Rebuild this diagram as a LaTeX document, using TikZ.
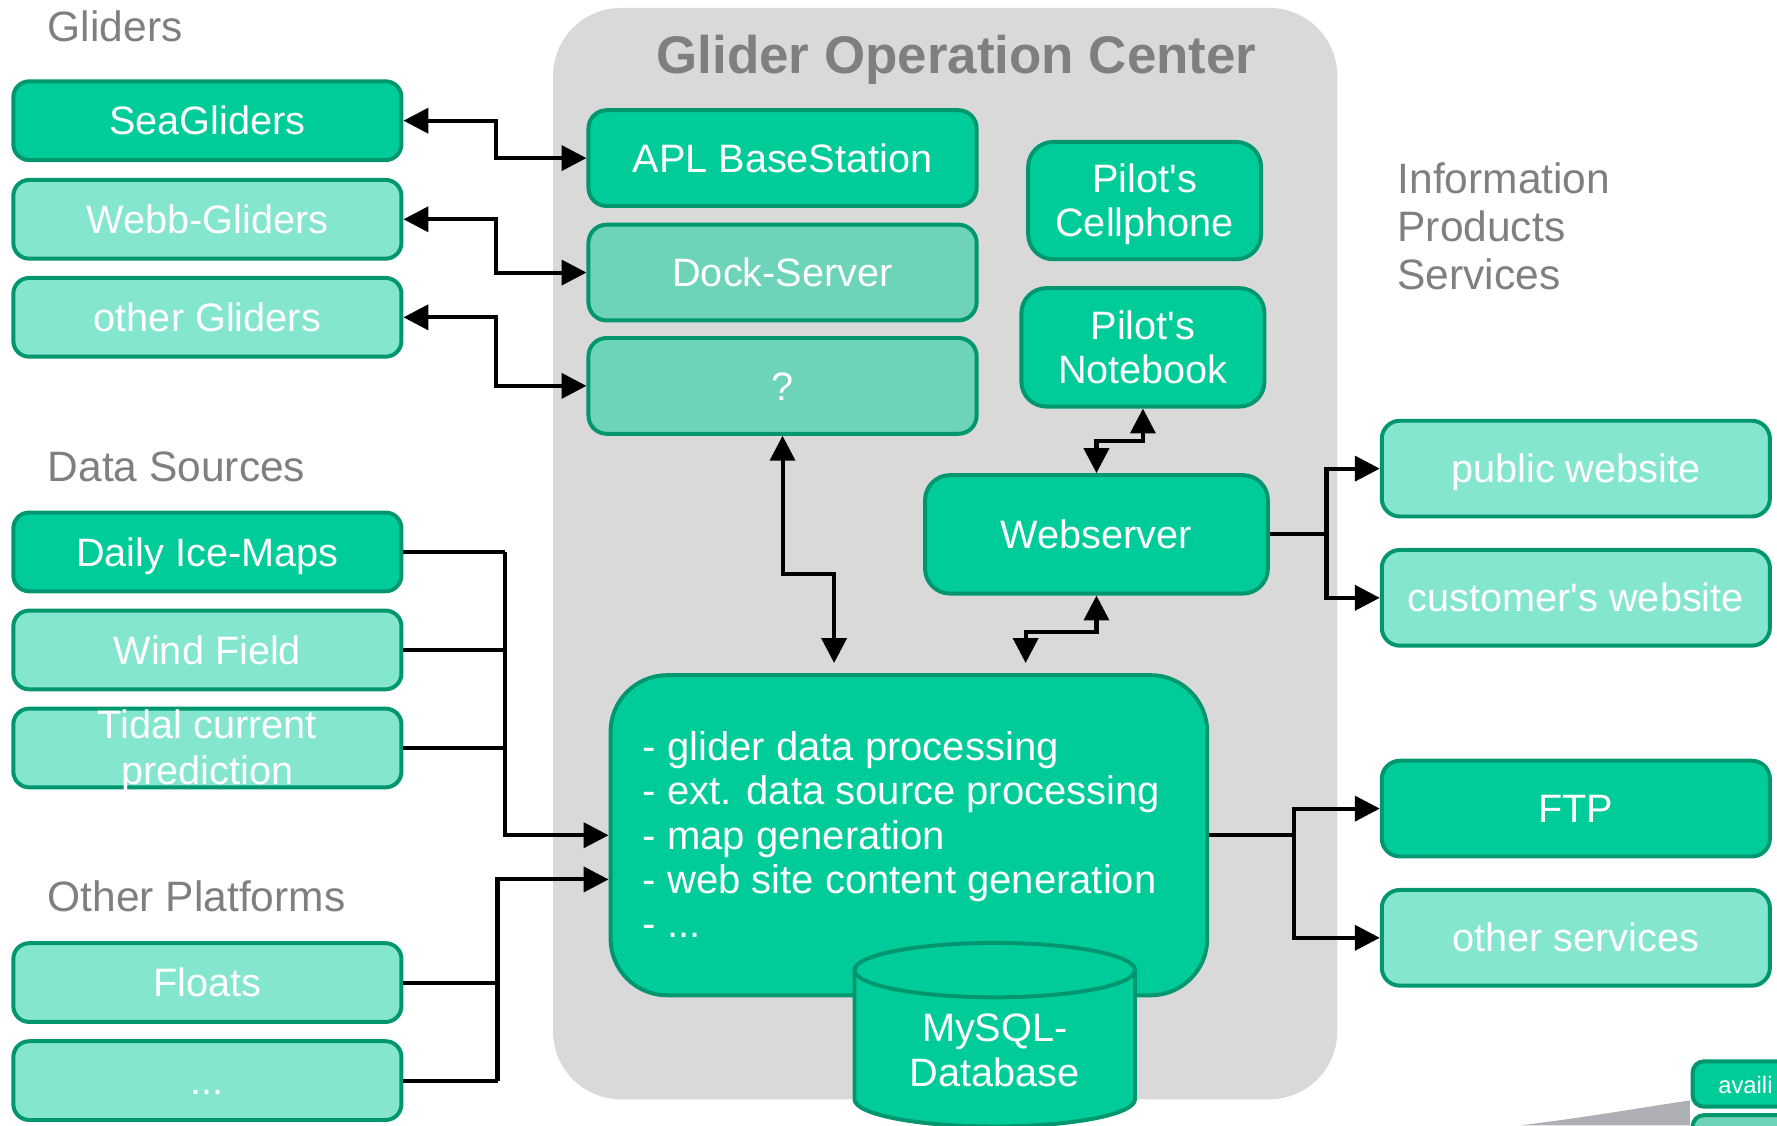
\documentclass[tikz,border=0pt]{standalone}
\usepackage{fontspec}
\setmainfont{Liberation Sans}
\usetikzlibrary{arrows.meta,calc}
\definecolor{gdark}{HTML}{00CC99}
\definecolor{glight}{HTML}{84E6CE}
\definecolor{gmid}{HTML}{6DD3B9}
\definecolor{gline}{HTML}{00966E}
\definecolor{panel}{HTML}{D9D9D9}
\definecolor{hdr}{HTML}{7F7F7F}
\definecolor{wedge}{HTML}{AEB0B5}
\newcommand{\apos}{\textquotesingle}
\begin{document}
\begin{tikzpicture}[x=1pt,y=-1pt,
  >={Triangle[length=22pt,width=22pt]},
  box/.style={draw=gline, line width=3.5pt, rounded corners=14pt, text=white, inner sep=0pt, align=center, font=\fontsize{35}{40}\selectfont},
  dk/.style={box, fill=gdark},
  lt/.style={box, fill=glight},
  md/.style={box, fill=gmid},
  one/.style={text height=25pt, text depth=0pt},
  lbox/.style={minimum width=342.5pt, minimum height=69.5pt},
  mbox/.style={minimum width=342.5pt, minimum height=84.5pt, rounded corners=16pt},
  hdrtext/.style={text=hdr, inner sep=0pt, font=\fontsize{37.5}{42.5}\selectfont},
  conn/.style={draw=black, line width=3.6pt},
]
\useasboundingbox (0,0) rectangle (1568,993);
\clip (0,0) rectangle (1568,993);

% panel
\node[fill=panel, rounded corners=60pt, minimum width=692pt, minimum height=963pt, inner sep=0pt] (panel) at (834,488.5) {};
\node[text=hdr, font=\fontsize{46.7}{50}\selectfont\bfseries, text height=33pt, text depth=0pt, inner sep=0pt] (title) at (844,48) {Glider Operation Center};

% headers
\node[hdrtext, anchor=west, text height=27pt, text depth=0pt] (hgl) at (42,23) {Gliders};
\node[hdrtext, anchor=west, text height=27pt, text depth=0pt] (hds) at (42,411) {Data Sources};
\node[hdrtext, anchor=west, text height=27pt, text depth=0pt] (hop) at (42,791) {Other Platforms};
\node[hdrtext, anchor=north west, align=left] (info) at (1233,143) {Information\\Products\\Services};

% left boxes
\node[dk,one,lbox] (sea) at (183,106.5) {SeaGliders};
\node[lt,one,lbox] (webb) at (183,193.5) {Webb-Gliders};
\node[lt,one,lbox] (oth) at (183,280) {other Gliders};
\node[dk,one,lbox] (daily) at (183,487) {Daily Ice-Maps};
\node[lt,one,lbox] (wind) at (183,573.5) {Wind Field};
\node[lt,lbox] (tidal) at (183,660) {};
\node[text=white, align=center, inner sep=0pt, font=\fontsize{35}{40}\selectfont] (tidaltext) at (183,663) {Tidal current\\prediction};
\node[lt,one,lbox] (floats) at (183,867) {Floats};
\node[lt,one,lbox] (dots) at (183,953.5) {...};

% middle boxes
\node[dk,one,mbox] (apl) at (690.5,139.5) {APL BaseStation};
\node[md,one,mbox] (dock) at (690.5,240.5) {Dock-Server};
\node[md,one,mbox] (q) at (690.5,340.5) {?};
\node[dk,rounded corners=22pt,minimum width=205.5pt,minimum height=103.5pt] (cell) at (1010,177) {};
\node[text=white, align=center, inner sep=0pt, font=\fontsize{35}{39}\selectfont] (celltext) at (1010,180) {Pilot\apos s\\Cellphone};
\node[dk,rounded corners=22pt,minimum width=214.5pt,minimum height=104.5pt, font=\fontsize{35}{39}\selectfont] (note) at (1008.5,306.5) {Pilot\apos s\\Notebook};
\node[dk,one,rounded corners=22pt,minimum width=302.5pt,minimum height=104.5pt] (web) at (967.5,471.5) {Webserver};
\node[dk,rounded corners=50pt,minimum width=526.5pt,minimum height=282.5pt] (proc) at (802,737) {};
\node[text=white, align=left, anchor=north west, inner sep=0pt, font=\fontsize{35.3}{39.2}\selectfont] (proctext) at (567,645) {- glider data processing\\- ext. data source processing\\- map generation\\- web site content generation\\- ...};

% database cylinder
\path[fill=gdark, draw=gline, line width=3.5pt] (754,856) -- (754,970) .. controls (754,983.3) and (809.4,994) .. (877.75,994) .. controls (946.1,994) and (1001.5,983.3) .. (1001.5,970) -- (1001.5,856) .. controls (1001.5,842.7) and (946.1,832) .. (877.75,832) .. controls (809.4,832) and (754,842.7) .. (754,856) -- cycle;
\draw[gline, line width=3.5pt] (754,856) .. controls (754,869.3) and (809.4,880) .. (877.75,880) .. controls (946.1,880) and (1001.5,869.3) .. (1001.5,856);
\node[text=white, align=center, font=\fontsize{35}{40}\selectfont, inner sep=0pt] (db) at (877.75,927) {MySQL-\\Database};

% right boxes
\node[lt,one,mbox] (pub) at (1390.5,413.5) {public website};
\node[lt,one,mbox] (cust) at (1390.5,527.5) {customer\apos s website};
\node[dk,one,mbox] (ftp) at (1390.5,713.5) {FTP};
\node[lt,one,mbox] (osv) at (1390.5,827.5) {other services};

% bottom right fragment
\path[fill=wedge] (1341,993) .. controls (1400,986) and (1450,977) .. (1491,971) -- (1491,993) -- cycle;
\node[draw=gline, fill=gmid, line width=3.5pt, rounded corners=10pt, minimum width=205pt, minimum height=40pt, inner sep=0pt] (avail2) at (1596,1004) {};
\node[draw=gline, fill=gdark, line width=3.5pt, rounded corners=10pt, minimum width=205pt, minimum height=40pt, inner sep=0pt] (availbox) at (1596,956.5) {};
\node[text=white, anchor=west, inner sep=0pt, font=\fontsize{21}{24}\selectfont, text height=15pt, text depth=0pt] (availtext) at (1516,957) {availi};

% connectors
\draw[conn,<->] (sea.east) -- ++(82,0) |- (apl.west);
\draw[conn,<->] (webb.east) -- ++(82,0) |- (dock.west);
\draw[conn,<->] (oth.east) -- ++(82,0) |- (q.west);
\draw[conn,<->] (q.south) -- ++(0,122) -| ([xshift=-66pt,yshift=9pt]proc.north);
\draw[conn,<->] (note.south) -- ++(0,29) -| (web.north);
\draw[conn,<->] (web.south) -- ++(0,32) -| ([xshift=103pt,yshift=9pt]proc.north);
\draw[conn,->] (web.east) -- ++(50,0) coordinate (wj) |- (pub.west);
\draw[conn,->] (wj) |- (cust.west);
\draw[conn,->] (proc.east) -- ++(75,0) coordinate (pj) |- (ftp.west);
\draw[conn,->] (pj) |- (osv.west);
\draw[conn] (daily.east) -- ++(90,0) coordinate (dj);
\draw[conn] (wind.east) -- (wind.east -| dj);
\draw[conn] (tidal.east) -- (tidal.east -| dj);
\draw[conn,->] (dj) |- (proc.west);
\draw[conn] (floats.east) -- ++(83,0) coordinate (fj);
\draw[conn] (dots.east) -- (dots.east -| fj) coordinate (fj2);
\draw[conn,->] (fj2) |- ([yshift=-39pt]proc.west);
\end{tikzpicture}
\end{document}
